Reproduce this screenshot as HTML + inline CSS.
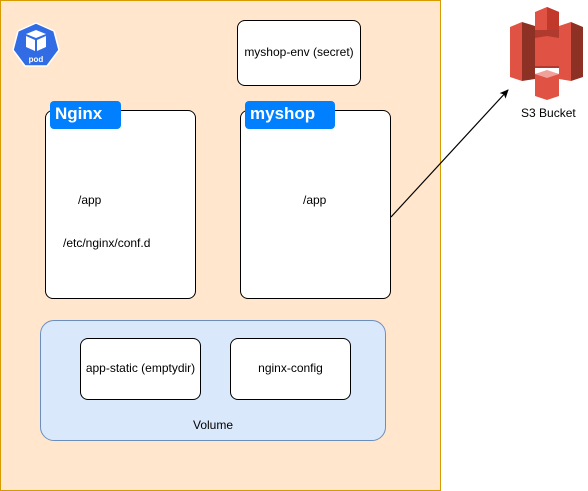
<!DOCTYPE html>
<html><head><style>
body{margin:0;width:588px;height:491px;background:#fff;font-family:"Liberation Sans",sans-serif;position:relative;overflow:hidden}
.a{position:absolute;box-sizing:border-box}
.t{font-size:12px;color:#000;position:absolute;white-space:nowrap}
</style></head><body>
<div class="a" style="left:0;top:0;width:441px;height:491px;background:#ffe6cc;border:1px solid #d79b00"></div>
<svg class="a" style="left:12px;top:22px" width="48" height="46" viewBox="0 0 48 46">
<polygon points="24,1 42,9 47,28 35,44 13,44 1,28 6,9" fill="#326ce5" stroke="#fff" stroke-width="1.5"/>
<polygon points="24,8 34,12 24,16 14,12" fill="#fff"/>
<polygon points="14,14 23,18 23,29 14,25" fill="#fff"/>
<polygon points="25,18 34,14 34,25 25,29" fill="#fff"/>
<text x="24" y="40" font-size="8" font-weight="bold" fill="#fff" text-anchor="middle" font-family="Liberation Sans">pod</text>
</svg>
<div class="a" style="left:237px;top:20px;width:124px;height:66px;background:#fff;border:1px solid #000;border-radius:8px"></div>
<div class="t" style="left:237px;top:45px;width:124px;text-align:center">myshop-env (secret)</div>
<div class="a" style="left:45px;top:110px;width:151px;height:189px;background:#fff;border:1px solid #000;border-radius:8px"></div>
<div class="a" style="left:50px;top:101px;width:71px;height:28px;background:#007fff;border-radius:4px"></div>
<div class="t" style="left:55px;top:104px;font-size:17px;font-weight:bold;color:#fff">Nginx</div>
<div class="t" style="left:78px;top:193px">/app</div>
<div class="t" style="left:63px;top:236px">/etc/nginx/conf.d</div>
<div class="a" style="left:240px;top:110px;width:151px;height:189px;background:#fff;border:1px solid #000;border-radius:8px"></div>
<div class="a" style="left:245px;top:101px;width:90px;height:28px;background:#007fff;border-radius:4px"></div>
<div class="t" style="left:250px;top:104px;font-size:17px;font-weight:bold;color:#fff">myshop</div>
<div class="t" style="left:303px;top:193px">/app</div>
<div class="a" style="left:40px;top:320px;width:346px;height:121px;background:#dae8fc;border:1px solid #6c8ebf;border-radius:14px"></div>
<div class="a" style="left:80px;top:338px;width:121px;height:62px;background:#fff;border:1px solid #000;border-radius:8px"></div>
<div class="t" style="left:80px;top:361px;width:121px;text-align:center">app-static (emptydir)</div>
<div class="a" style="left:230px;top:338px;width:121px;height:62px;background:#fff;border:1px solid #000;border-radius:8px"></div>
<div class="t" style="left:230px;top:361px;width:121px;text-align:center">nginx-config</div>
<div class="t" style="left:40px;top:418px;width:346px;text-align:center">Volume</div>
<svg class="a" style="left:0;top:0" width="588" height="491">
<defs><marker id="m" markerWidth="10" markerHeight="10" refX="8" refY="4" orient="auto" markerUnits="userSpaceOnUse"><path d="M0,0 L9,4 L0,8 L2,4z" fill="#000"/></marker></defs>
<line x1="391" y1="217" x2="508" y2="90" stroke="#000" stroke-width="1.2" marker-end="url(#m)"/>
<g>
<polygon points="510,27 522,22 522,81 510,77" fill="#e05243"/>
<polygon points="522,22 535,26 535,79 522,81" fill="#8c3123"/>
<polygon points="583,27 571,22 571,81 583,77" fill="#8c3123"/>
<polygon points="571,22 559,26 559,79 571,81" fill="#e05243"/>
<polygon points="535,12 547,7 559,12 559,30 535,30" fill="#e05243"/>
<polygon points="547,7 559,12 559,30 547,30" fill="#c0392b"/>
<polygon points="535,30 559,30 559,68 535,68" fill="#b03a2e"/>
<polygon points="535,38 547,36 559,38 559,66 535,66" fill="#e05243"/>
<polygon points="535,74 547,71 559,74 559,96 547,100 535,96" fill="#e05243"/>
<polygon points="535,74 547,70 559,74 547,78" fill="#f2a09a"/>
</g>
</svg>
<div class="t" style="left:521px;top:106px">S3 Bucket</div>
</body></html>
